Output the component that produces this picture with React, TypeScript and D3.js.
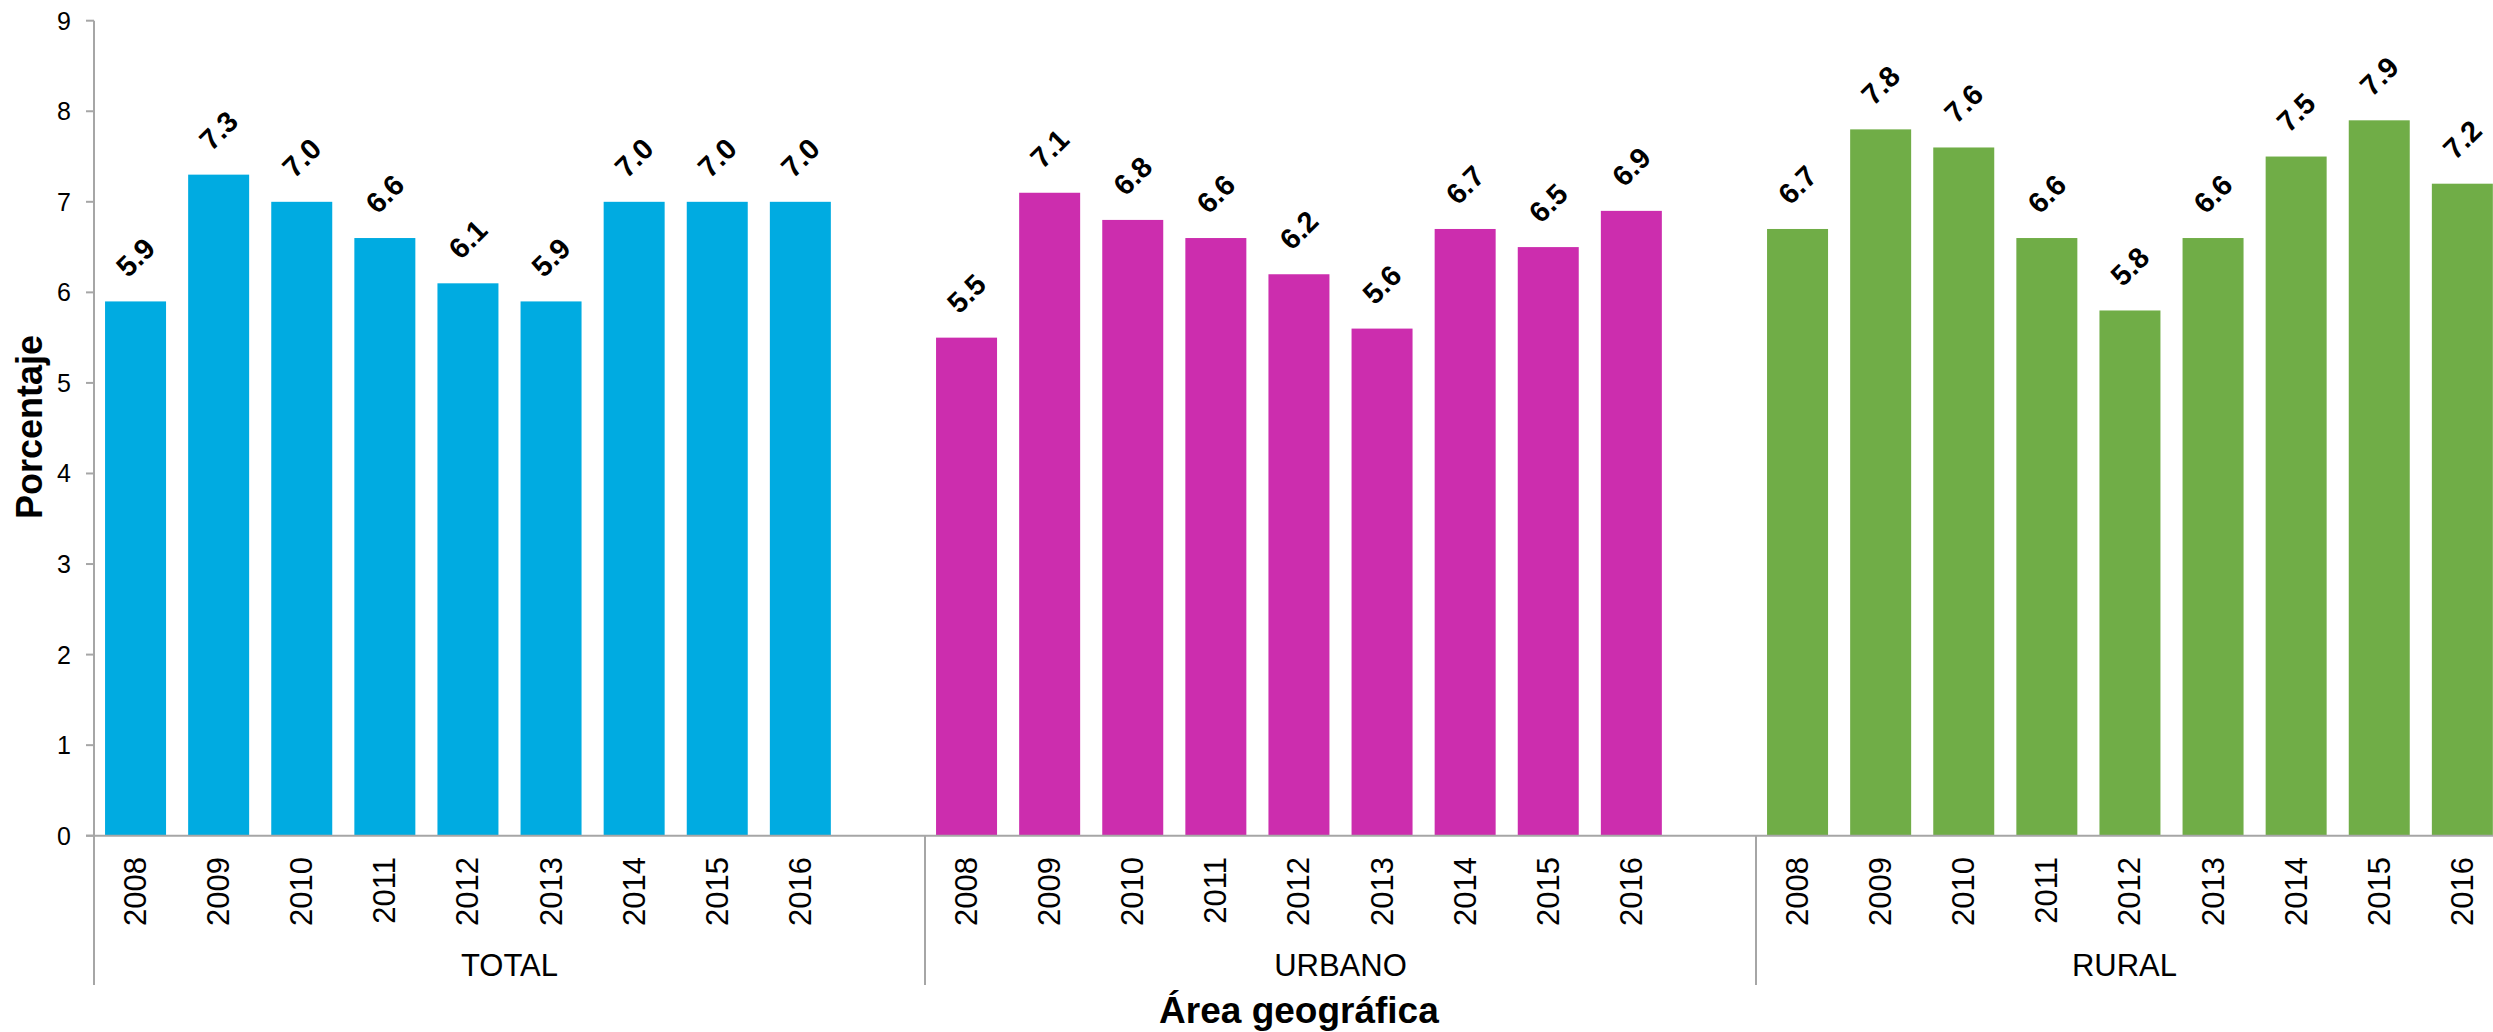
import React from "react";
import * as d3 from "d3";

const groups = ["TOTAL", "URBANO", "RURAL"];
const years = ["2008", "2009", "2010", "2011", "2012", "2013", "2014", "2015", "2016"];
const totalValues = [5.9, 7.3, 7.0, 6.6, 6.1, 5.9, 7.0, 7.0, 7.0];
const urbanoValues = [5.5, 7.1, 6.8, 6.6, 6.2, 5.6, 6.7, 6.5, 6.9];
const ruralValues = [6.7, 7.8, 7.6, 6.6, 5.8, 6.6, 7.5, 7.9, 7.2];
const groupColors = ["#00ABE1", "#CC2DAE", "#70AD47"];
const yTicks = [0, 1, 2, 3, 4, 5, 6, 7, 8, 9];
const yLabel = "Porcentaje";
const xLabel = "Área geográfica";

const W = 2493;
const H = 1032;
const FONT = "'Liberation Sans', Arial, Helvetica, sans-serif";

export default function App() {
  const seriesValues = [totalValues, urbanoValues, ruralValues];
  // slots: each group has 9 years; first two groups have a trailing empty slot
  const slots: { key: string; g: number; year?: string; value?: number }[] = [];
  groups.forEach((g, gi) => {
    years.forEach((yr, yi) => slots.push({ key: `${g}-${yr}`, g: gi, year: yr, value: seriesValues[gi][yi] }));
    if (gi < groups.length - 1) slots.push({ key: `${g}-blank`, g: gi });
  });

  const left = 94;
  const step = 83.1;
  const pad = 0.266;
  const x = d3
    .scaleBand<string>()
    .domain(slots.map((s) => s.key))
    .range([left, left + slots.length * step])
    .paddingInner(pad)
    .paddingOuter(pad / 2);
  const y = d3.scaleLinear().domain([0, 9]).range([835.7, 20.7]);

  const axisColor = "#A6A6A6";
  const baseY = y(0);
  const bottomY = 985;

  // group boundaries
  const groupRanges = groups.map((g, gi) => {
    const ks = slots.filter((s) => s.g === gi);
    const start = x(ks[0].key)! - (x.step() * pad) / 2;
    const end = x(ks[ks.length - 1].key)! + x.bandwidth() + (x.step() * pad) / 2;
    return { g, start, end: Math.min(end, W) };
  });

  const bars = slots.filter((s) => s.value !== undefined);

  return (
    <div style={{ position: "absolute", left: 0, top: 0 }}>
      <svg width={W} height={H} style={{ display: "block", background: "#fff" }} fontFamily={FONT}>
        {/* bars */}
        {bars.map((s) => (
          <rect
            key={s.key}
            x={x(s.key)}
            y={y(s.value!)}
            width={x.bandwidth()}
            height={baseY - y(s.value!)}
            fill={groupColors[s.g]}
          />
        ))}
        {/* value labels */}
        {bars.map((s) => {
          const cx = x(s.key)! + x.bandwidth() / 2;
          const cy = y(s.value!) - 44;
          return (
            <text
              key={s.key + "-lbl"}
              transform={`translate(${cx},${cy}) rotate(-45)`}
              textAnchor="middle"
              dominantBaseline="central"
              fontSize={29}
              fontWeight="bold"
              fill="#000"
            >
              {s.value!.toFixed(1)}
            </text>
          );
        })}
        {/* y axis */}
        <line x1={left} x2={left} y1={y(9)} y2={bottomY} stroke={axisColor} strokeWidth={2} />
        {yTicks.map((t) => (
          <g key={t}>
            <line x1={left - 8} x2={left} y1={y(t)} y2={y(t)} stroke={axisColor} strokeWidth={2} />
            <text x={71} y={y(t)} textAnchor="end" dominantBaseline="central" fontSize={25} fill="#000">
              {t}
            </text>
          </g>
        ))}
        {/* x axis baseline */}
        <line x1={left - 8} x2={W} y1={baseY} y2={baseY} stroke={axisColor} strokeWidth={2} />
        {/* group separators */}
        {groupRanges.slice(1).map((r) => (
          <line key={r.g + "-sep"} x1={r.start} x2={r.start} y1={baseY} y2={bottomY} stroke={axisColor} strokeWidth={2} />
        ))}
        {/* year labels */}
        {bars.map((s) => {
          const cx = x(s.key)! + x.bandwidth() / 2;
          return (
            <text
              key={s.key + "-yr"}
              transform={`translate(${cx},857) rotate(-90)`}
              textAnchor="end"
              dominantBaseline="central"
              fontSize={31}
              fill="#000"
            >
              {s.year}
            </text>
          );
        })}
        {/* group labels */}
        {groupRanges.map((r) => (
          <text key={r.g} x={(r.start + r.end) / 2} y={976} textAnchor="middle" fontSize={31} fill="#000">
            {r.g}
          </text>
        ))}
        {/* axis titles */}
        <text
          transform={`translate(42,427) rotate(-90)`}
          textAnchor="middle"
          fontSize={36}
          fontWeight="bold"
          fill="#000"
        >
          {yLabel}
        </text>
        <text x={(left + left + slots.length * step) / 2} y={1023} textAnchor="middle" fontSize={37} fontWeight="bold" fill="#000">
          {xLabel}
        </text>
      </svg>
    </div>
  );
}
